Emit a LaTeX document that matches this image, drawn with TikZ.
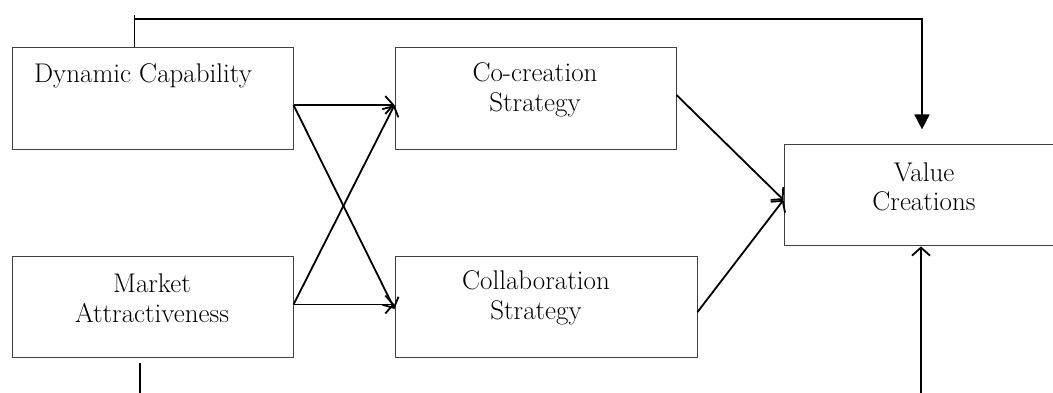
\documentclass[tikz,border=0pt]{standalone}
\usetikzlibrary{arrows.meta}
\begin{document}
\begin{tikzpicture}[x=1pt,y=-1pt,
  box/.style={draw=black!75,line width=1pt,rectangle,inner sep=0pt},
  lbl/.style={align=center,inner sep=0pt,font=\fontsize{27}{29.5}\selectfont},
  con/.style={line width=1.8pt,-{Straight Barb[length=8pt,width=18pt,line width=1.8pt]}},
  line/.style={line width=1.8pt}]
\useasboundingbox (0,0) rectangle (1053,392);
\clip (0,0) rectangle (1053,392);
% boxes
\node[box,minimum width=281pt,minimum height=102pt] (dc) at (152.5,98) {};
\node[box,minimum width=281pt,minimum height=102pt] (cc) at (535.5,98) {};
\node[box,minimum width=281pt,minimum height=101pt] (ma) at (152.5,306.5) {};
\node[box,minimum width=302pt,minimum height=101pt] (cl) at (546,306.5) {};
\node[box,minimum width=286pt,minimum height=101pt] (vc) at (927,195.4) {};
% labels
\node[lbl,anchor=base] (tdc) at (143,82) {Dynamic Capability};
\node[lbl] (tcc) at (535,90) {Co-creation\\Strategy};
\node[lbl] (tma) at (152,298) {Market\\Attractiveness};
\node[lbl] (tcl) at (536,298) {Collaboration\\Strategy};
\node[lbl] (tvc) at (924,187) {Value\\Creations};
% connectors
\draw[con] ([yshift=-7pt]dc.east) -- ([yshift=-7pt]cc.west);
\draw[con] ([yshift=-7pt]dc.east) -- ([yshift=-2.5pt]cl.west);
\draw[con] ([yshift=2pt]ma.east) -- ([yshift=-7pt]cc.west);
\draw[con] ([yshift=2pt]ma.east) -- ([yshift=2pt]cl.west);
\draw[con] ([yshift=3pt]cc.east) -- ([yshift=-4.5pt]vc.west);
\draw[con] ([yshift=-5.5pt]cl.east) -- ([yshift=-4.5pt]vc.west);
% feedback lines
\coordinate (ta) at (134.5,15);
\coordinate (tb) at (134.5,18.7);
\coordinate (tc) at (922,18.7);
\draw[line] (dc.north -| ta) -- (ta);
\draw[line,-{Triangle[length=15pt,width=15pt]},shorten >=15pt] (tb) -- (tc) -- (vc.north -| tc);
\coordinate (b0) at (140,363);
\coordinate (b1) at (140,395);
\draw[line] (b0) -- (b1);
\coordinate (b2) at (921,395);
\draw[con] (b2) -- (vc.south -| b2);
\end{tikzpicture}
\end{document}
